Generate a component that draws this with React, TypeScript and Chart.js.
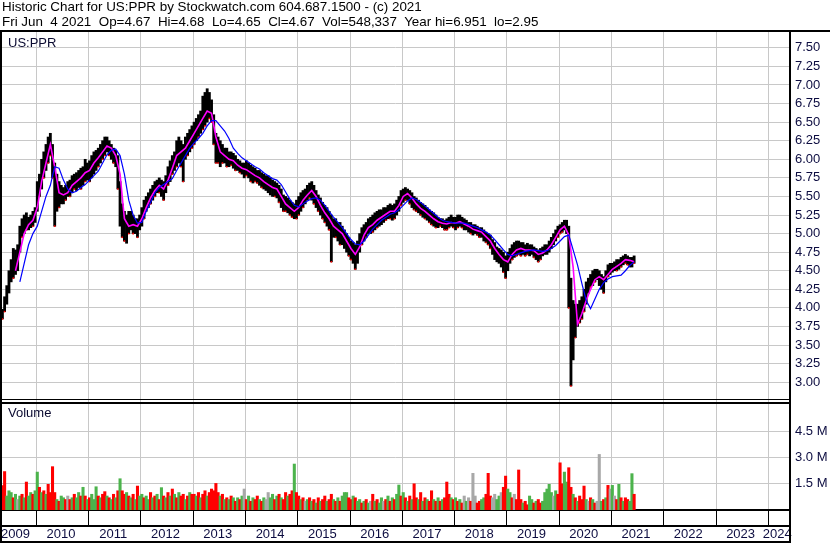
import React, { useEffect, useRef } from "react";
import { Chart, registerables } from "chart.js";

Chart.register(...registerables);

const HEADER_LINE_1 = "Historic Chart for US:PPR by Stockwatch.com 604.687.1500 - (c) 2021";
const HEADER_LINE_2 =
  "Fri Jun  4 2021  Op=4.67  Hi=4.68  Lo=4.65  Cl=4.67  Vol=548,337  Year hi=6.951  lo=2.95";
const PRICE_TITLE = "US:PPR";
const VOLUME_TITLE = "Volume";

// time axis: semi-monthly samples starting mid-2009
const START_YEAR = 2009.35;
const STEP = 1 / 24;
const MA_STEP = 1 / 12;
const X_MIN = 2009.344;
const X_MAX = 2024.415;

const YEAR_TICKS = [2010, 2011, 2012, 2013, 2014, 2015, 2016, 2017, 2018, 2019, 2020, 2021, 2022, 2023, 2024];
const YEAR_LABEL_POS = [2009.6, 2010.47, 2011.47, 2012.47, 2013.47, 2014.47, 2015.47, 2016.47, 2017.47, 2018.47, 2019.47, 2020.47, 2021.47, 2022.47, 2023.47, 2024.17];
const YEAR_LABELS = ["2009", "2010", "2011", "2012", "2013", "2014", "2015", "2016", "2017", "2018", "2019", "2020", "2021", "2022", "2023", "2024"];

const PRICE_TICKS = [3.0, 3.25, 3.5, 3.75, 4.0, 4.25, 4.5, 4.75, 5.0, 5.25, 5.5, 5.75, 6.0, 6.25, 6.5, 6.75, 7.0, 7.25, 7.5];
const VOLUME_TICKS = [1.5, 3.0, 4.5];

const PRICE_LOW = [
  3.85, 3.95, 4.05, 4.2, 4.35, 4.4, 4.45, 4.5, 4.75, 4.95, 5.0, 5.05, 5.05, 5.08, 5.1, 5.15,
  5.3, 5.5, 5.6, 5.75, 5.85, 5.95, 6.05, 5.75, 5.1, 5.3, 5.35, 5.4, 5.4, 5.45, 5.5, 5.5, 5.55, 5.6, 5.58, 5.62, 5.6, 5.65, 5.7, 5.72,
  5.7, 5.75, 5.8, 5.85, 5.9, 5.95, 6.0, 6.05, 6.1, 6.05, 6.0, 5.95, 5.9, 5.6, 5.1, 4.95, 4.9, 4.87, 5.0, 5.05, 5.0, 5.0, 4.95, 5.05,
  5.1, 5.2, 5.3, 5.35, 5.4, 5.45, 5.5, 5.55, 5.55, 5.5, 5.45, 5.55, 5.65, 5.7, 5.8, 5.85, 5.9, 5.95, 5.9, 5.7, 6.0, 6.05, 6.1, 6.15,
  6.2, 6.25, 6.3, 6.35, 6.4, 6.45, 6.5, 6.55, 6.5, 6.2, 5.95, 5.95, 5.9, 5.95, 5.95, 5.9, 5.9, 5.92, 5.88, 5.85, 5.85, 5.82, 5.8, 5.75,
  5.78, 5.75, 5.7, 5.68, 5.7, 5.68, 5.65, 5.62, 5.6, 5.58, 5.55, 5.52, 5.5, 5.5, 5.48, 5.42, 5.35, 5.3, 5.3, 5.28, 5.25, 5.22, 5.2, 5.2,
  5.25, 5.3, 5.35, 5.4, 5.45, 5.48, 5.45, 5.4, 5.35, 5.3, 5.25, 5.2, 5.15, 5.1, 5.05, 4.62, 4.95, 4.95, 4.9, 4.85, 4.85, 4.8, 4.75, 4.7,
  4.65, 4.6, 4.52, 4.6, 4.75, 4.85, 4.9, 4.95, 5.0, 5.0, 5.02, 5.05, 5.08, 5.1, 5.12, 5.15, 5.18, 5.2, 5.2, 5.18, 5.2, 5.25, 5.3, 5.38,
  5.42, 5.45, 5.45, 5.4, 5.35, 5.32, 5.3, 5.28, 5.25, 5.22, 5.2, 5.18, 5.15, 5.12, 5.1, 5.08, 5.08, 5.1, 5.08, 5.05, 5.05, 5.08, 5.1, 5.08,
  5.05, 5.08, 5.1, 5.08, 5.05, 5.05, 5.02, 5.0, 4.98, 5.0, 4.98, 4.95, 4.95, 4.9, 4.88, 4.85, 4.8, 4.72, 4.65, 4.62, 4.6, 4.55, 4.48, 4.4,
  4.5, 4.6, 4.65, 4.68, 4.7, 4.72, 4.7, 4.72, 4.7, 4.72, 4.7, 4.72, 4.68, 4.65, 4.62, 4.65, 4.7, 4.72, 4.72, 4.75, 4.8, 4.85, 4.9, 4.95,
  5.0, 5.02, 5.05, 5.0, 4.0, 2.95, 3.3, 3.6, 3.75, 3.8, 3.85, 3.95, 4.05, 4.2, 4.28, 4.3, 4.35, 4.38, 4.3, 4.25, 4.2, 4.35, 4.42, 4.45,
  4.48, 4.5, 4.5, 4.52, 4.55, 4.58, 4.6, 4.58, 4.55, 4.55, 4.6,
];

const PRICE_HIGH = [
  3.98, 4.15, 4.3, 4.5, 4.65, 4.8, 4.78, 4.85, 5.1, 5.2, 5.25, 5.28, 5.22, 5.25, 5.3, 5.35,
  5.7, 5.8, 6.0, 6.1, 6.2, 6.3, 6.35, 6.2, 5.95, 5.8, 5.7, 5.65, 5.62, 5.65, 5.7, 5.72, 5.78, 5.8, 5.82, 5.85, 5.88, 5.9, 6.0, 5.95,
  5.98, 6.05, 6.1, 6.12, 6.15, 6.2, 6.25, 6.3, 6.3, 6.25, 6.2, 6.15, 6.12, 6.05, 5.7, 5.4, 5.3, 5.25, 5.3, 5.3, 5.25, 5.2, 5.2, 5.25,
  5.35, 5.45, 5.5, 5.55, 5.6, 5.65, 5.7, 5.72, 5.75, 5.72, 5.7, 5.78, 5.9, 5.98, 6.05, 6.1, 6.25, 6.3, 6.25, 6.2, 6.3, 6.35, 6.4, 6.45,
  6.5, 6.55, 6.6, 6.65, 6.85, 6.9, 6.95, 6.9, 6.8, 6.6, 6.35, 6.3, 6.25, 6.2, 6.15, 6.15, 6.1, 6.1, 6.08, 6.05, 6.0, 5.98, 5.95, 5.95,
  5.98, 5.95, 5.92, 5.9, 5.88, 5.85, 5.85, 5.82, 5.8, 5.78, 5.78, 5.75, 5.72, 5.7, 5.68, 5.65, 5.6, 5.52, 5.5, 5.48, 5.45, 5.42, 5.4, 5.45,
  5.5, 5.55, 5.58, 5.6, 5.65, 5.68, 5.7, 5.65, 5.58, 5.52, 5.48, 5.42, 5.38, 5.35, 5.3, 5.25, 5.2, 5.2, 5.15, 5.15, 5.1, 5.05, 5.0, 4.95,
  4.9, 4.88, 4.85, 4.9, 5.0, 5.08, 5.12, 5.15, 5.2, 5.22, 5.25, 5.28, 5.3, 5.32, 5.32, 5.35, 5.35, 5.38, 5.4, 5.38, 5.4, 5.45, 5.5, 5.58,
  5.6, 5.62, 5.6, 5.58, 5.55, 5.5, 5.48, 5.45, 5.42, 5.4, 5.38, 5.35, 5.32, 5.3, 5.28, 5.25, 5.22, 5.2, 5.2, 5.18, 5.2, 5.22, 5.25, 5.22,
  5.22, 5.25, 5.25, 5.22, 5.2, 5.18, 5.15, 5.15, 5.12, 5.12, 5.1, 5.08, 5.08, 5.05, 5.02, 5.0, 4.98, 4.92, 4.88, 4.82, 4.8, 4.78, 4.75, 4.7,
  4.75, 4.8, 4.85, 4.88, 4.9, 4.9, 4.88, 4.88, 4.85, 4.87, 4.85, 4.85, 4.82, 4.8, 4.78, 4.8, 4.82, 4.85, 4.85, 4.9, 4.95, 5.0, 5.05, 5.1,
  5.12, 5.15, 5.18, 5.18, 5.1, 4.4, 4.1, 4.05, 4.05, 4.1, 4.15, 4.25, 4.35, 4.4, 4.45, 4.5, 4.52, 4.52, 4.5, 4.45, 4.42, 4.5, 4.58, 4.6,
  4.6, 4.62, 4.65, 4.65, 4.68, 4.7, 4.72, 4.7, 4.68, 4.68, 4.7,
];

// monthly moving averages
const MA_FAST = [
  null, null, null, 4.5, 4.75, 5.0, 5.12, 5.18, 5.35, 5.7, 5.95, 6.2,
  5.9, 5.55, 5.52, 5.55, 5.65, 5.7, 5.75, 5.82,
  5.85, 5.95, 6.02, 6.1, 6.18, 6.15, 6.05, 5.8, 5.2, 5.1, 5.12, 5.1,
  5.2, 5.35, 5.48, 5.58, 5.65, 5.6, 5.72, 5.88, 6.05, 6.1, 6.15, 6.25,
  6.35, 6.45, 6.55, 6.65, 6.62, 6.3, 6.1, 6.05, 6.0, 5.98, 5.92, 5.88,
  5.86, 5.82, 5.78, 5.75, 5.7, 5.66, 5.62, 5.6, 5.5, 5.4, 5.35, 5.3,
  5.35, 5.45, 5.52, 5.58, 5.5, 5.38, 5.28, 5.2, 5.1, 5.05, 5.0, 4.9,
  4.8, 4.72, 4.82, 4.98, 5.08, 5.12, 5.18, 5.22, 5.26, 5.3, 5.3, 5.38,
  5.5, 5.54, 5.48, 5.4, 5.34, 5.3, 5.25, 5.2, 5.16, 5.14, 5.13, 5.15,
  5.14, 5.16, 5.13, 5.1, 5.06, 5.04, 5.02, 4.96, 4.9, 4.8, 4.72, 4.65,
  4.62, 4.72, 4.78, 4.8, 4.78, 4.78, 4.77, 4.72, 4.74, 4.78, 4.85, 4.95,
  5.05, 5.1, 4.98, 4.55, 3.78, 3.92, 4.1, 4.25, 4.38, 4.42, 4.38, 4.45,
  4.52, 4.56, 4.6, 4.65, 4.64, 4.62,
];

const MA_SLOW = [
  null, null, null, null, 4.35, 4.6, 4.85, 5.0, 5.1, 5.3, 5.5, 5.65,
  5.9, 5.88, 5.72, 5.6, 5.55, 5.57, 5.62, 5.66,
  5.72, 5.78, 5.84, 5.95, 6.06, 6.12, 6.14, 6.05, 5.8, 5.45, 5.25, 5.14,
  5.15, 5.3, 5.42, 5.55, 5.62, 5.66, 5.7, 5.74, 5.85, 5.95, 6.05, 6.15,
  6.22, 6.28, 6.35, 6.45, 6.52, 6.52, 6.45, 6.38, 6.28, 6.15, 6.08, 6.02,
  5.98, 5.94, 5.9, 5.87, 5.82, 5.78, 5.74, 5.72, 5.66, 5.56, 5.46, 5.38,
  5.36, 5.4, 5.44, 5.47, 5.48, 5.45, 5.38, 5.3, 5.22, 5.15, 5.08, 5.0,
  4.92, 4.86, 4.85, 4.9, 4.98, 5.06, 5.12, 5.18, 5.22, 5.26, 5.28, 5.32,
  5.38, 5.44, 5.48, 5.46, 5.42, 5.37, 5.32, 5.27, 5.22, 5.18, 5.16, 5.15,
  5.14, 5.14, 5.14, 5.12, 5.1, 5.08, 5.05, 5.02, 4.98, 4.92, 4.85, 4.78,
  4.72, 4.7, 4.72, 4.74, 4.76, 4.77, 4.78, 4.77, 4.76, 4.77, 4.8, 4.84,
  4.9, 4.96, 4.98, 4.78, 4.58, 4.33, 4.1, 3.99, 4.12, 4.25, 4.34, 4.39,
  4.42, 4.43, 4.44, 4.5, 4.57, 4.62,
];

// volume in millions, semi-monthly
const VOLUME_M = [
  1.4, 2.2, 0.8, 1.1, 1.0, 0.7, 0.9, 0.6, 0.8, 0.9, 0.7, 1.6, 0.8, 1.0, 0.9, 1.1,
  2.17, 1.3, 1.0, 1.1, 0.9, 1.47, 1.0, 2.48, 1.0, 0.6, 0.5, 0.8, 0.7, 0.6, 0.8, 0.6, 0.7, 0.9, 0.7, 1.0, 0.8, 1.3, 0.8, 0.6,
  0.7, 0.9, 0.6, 1.33, 0.8, 0.7, 0.9, 1.05, 0.8, 0.7, 0.6, 0.9, 0.7, 1.1, 1.79, 1.1, 0.9, 1.0, 0.8, 0.7, 0.9, 0.6, 1.37, 0.8,
  0.9, 0.7, 0.8, 0.6, 1.0, 0.7, 0.8, 0.9, 0.6, 1.28, 0.8, 0.7, 1.0, 0.8, 1.2, 0.9, 0.7, 1.0, 0.8, 0.9, 0.6, 0.8, 1.0, 0.9,
  0.9, 0.8, 1.0, 0.7, 0.9, 1.1, 0.8, 1.0, 1.2, 1.1, 1.52, 1.0, 0.8, 0.9, 0.6, 0.7, 0.6, 0.8, 0.7, 0.5, 0.7, 0.6, 0.8, 1.2,
  0.6, 0.8, 0.5, 0.7, 0.6, 0.8, 0.6, 0.5, 0.7, 0.6, 1.0, 0.7, 0.9, 0.6, 0.8, 0.9, 0.7, 0.6, 1.0, 0.8, 0.9, 1.1, 2.63, 1.0,
  0.8, 0.6, 0.7, 0.5, 0.6, 0.7, 0.5, 0.6, 0.4, 0.7, 0.5, 0.6, 0.8, 0.5, 0.6, 0.9, 0.6, 0.5, 0.7, 0.5, 0.8, 1.0, 1.0, 0.7,
  0.6, 0.8, 0.7, 0.5, 0.6, 0.4, 0.5, 0.6, 0.4, 0.5, 0.9, 0.5, 0.6, 0.4, 0.7, 0.5, 0.6, 0.8, 0.5, 0.7, 0.6, 0.9, 1.43, 0.8,
  1.0, 0.7, 0.5, 0.8, 0.6, 1.5, 0.7, 0.6, 1.0, 0.5, 0.7, 0.6, 0.5, 1.1, 0.6, 0.5, 0.7, 0.5, 0.6, 0.7, 1.6, 0.9, 0.7, 0.6,
  0.7, 0.5, 0.6, 0.4, 0.8, 0.5, 0.7, 0.5, 2.1, 0.8, 0.4, 0.5, 0.6, 0.7, 0.9, 2.1, 0.8, 0.7, 0.9, 0.6, 0.8, 1.0, 1.3, 1.94,
  1.2, 1.0, 0.7, 0.9, 0.6, 2.29, 0.6, 0.4, 0.5, 0.3, 0.8, 0.6, 0.4, 0.5, 0.6, 0.4, 0.5, 1.0, 1.2, 1.47, 1.0, 0.8, 1.1, 0.9,
  2.7, 1.5, 2.17, 1.6, 2.42, 1.3, 0.9, 0.7, 0.5, 0.8, 0.6, 1.37, 0.6, 0.5, 0.7, 0.6, 0.4, 0.5, 3.18, 0.5, 0.6, 0.7, 1.41, 1.2,
  1.41, 0.8, 0.6, 1.47, 0.7, 0.5, 0.7, 0.6, 0.5, 2.08, 0.9,
];

// r = down, g = up, n = unchanged
const VOLUME_DIR =
  "rrgggrgngrgrggrg" +
  "grgrgrrrrgrggrnrgrggrgrg" +
  "rgggrgrrgrgrgrgrrgrgrgrg" +
  "grggrgrgrgrgrgrgrgrrgrgr" +
  "rgrgrrgrrrrrgrgrgrgrgrgn" +
  "rgrgrrgrgnnggrgrgrrgrrgr" +
  "rgrngrgrgrgrrgrrgrgrgggr" +
  "rgrggrgrgnrgrggnrgrgrggr" +
  "grgrgrrgrgrgrrgrgrgrrrgr" +
  "grgrngnrnnrrggrrrnnggnrr" +
  "ggrnrrrgrrggrgrrgggggngr" +
  "rrggrrgrgrrrgnrgrnngrgrn" +
  "gnrgrgrrggr";

const FONT = "'Liberation Sans', Arial, Helvetica, sans-serif";
const LABEL_COLOR = "#0c0c40";
const GRID_COLOR = "#c8c8c8";
const RED = "#ff0000";
const GREEN = "#4cb34c";
const GRAY = "#a8a8a8";

const framePlugin = {
  id: "frame",
  afterDraw(chart: any) {
    const { ctx, chartArea, scales } = chart;
    const right = chartArea.right;
    const top = chartArea.top;
    const sep = scales.yv.top;
    const bottom = scales.x2.bottom;
    ctx.save();
    ctx.fillStyle = "#000";
    ctx.fillRect(0, top - 2, chart.width, 2);
    ctx.fillRect(0, top - 2, 2, bottom - top + 4);
    ctx.fillRect(right - 1, top - 2, 2, bottom - top + 4);
    ctx.fillRect(0, sep - 3, right, 1);
    ctx.fillRect(0, sep, right, 2);
    ctx.fillRect(0, bottom, right + 1, 2);
    ctx.restore();
  },
};

export default function App() {
  const ref = useRef<HTMLCanvasElement>(null);

  useEffect(() => {
    document.body.style.margin = "0";
    const priceBars = PRICE_LOW.map((lo, i) => ({ x: START_YEAR + i * STEP, y: [lo, PRICE_HIGH[i]] }));
    const downCloses = PRICE_LOW.map((lo, i) => ({ x: START_YEAR + i * STEP, y: VOLUME_DIR[i] === "r" ? lo : null }));
    const volBars = VOLUME_M.map((v, i) => ({ x: START_YEAR + i * STEP, y: v }));
    const volColors = VOLUME_DIR.split("").map((c) => (c === "r" ? RED : c === "g" ? GREEN : GRAY));
    const fast = MA_FAST.map((v, k) => ({ x: START_YEAR + k * MA_STEP, y: v }));
    const slow = MA_SLOW.map((v, k) => ({ x: START_YEAR + k * MA_STEP, y: v }));

    const tickFont = { family: FONT, size: 13 };

    const chart = new Chart(ref.current as HTMLCanvasElement, {
      type: "bar",
      data: {
        datasets: [
          {
            type: "line",
            label: "MA slow",
            data: slow as any,
            xAxisID: "x",
            yAxisID: "y",
            borderColor: "#0000ff",
            borderWidth: 1.2,
            pointRadius: 0,
            tension: 0,
            spanGaps: false,
            order: 0,
          },
          {
            type: "line",
            label: "MA fast",
            data: fast as any,
            xAxisID: "x",
            yAxisID: "y",
            borderColor: "#ff00ff",
            borderWidth: 1.6,
            pointRadius: 0,
            tension: 0,
            spanGaps: false,
            order: 1,
          },
          {
            type: "line",
            label: "Down close",
            data: downCloses as any,
            xAxisID: "x",
            yAxisID: "y",
            showLine: false,
            pointStyle: "rect",
            pointRadius: 1.1,
            pointBackgroundColor: RED,
            pointBorderWidth: 0,
            order: 1.5,
          },
          {
            type: "bar",
            label: "Price",
            data: priceBars as any,
            xAxisID: "x",
            yAxisID: "y",
            backgroundColor: "#000000",
            borderWidth: 0,
            grouped: false,
            barPercentage: 1,
            categoryPercentage: 1,
            order: 2,
          },
          {
            type: "bar",
            label: "Volume",
            data: volBars as any,
            xAxisID: "x",
            yAxisID: "yv",
            backgroundColor: volColors,
            borderWidth: 0,
            grouped: false,
            barThickness: 2.4,
            order: 3,
          },
        ],
      },
      options: {
        responsive: false,
        devicePixelRatio: 1,
        animation: false,
        events: [],
        layout: { autoPadding: false, padding: { top: 32, left: 2, right: 0, bottom: 2 } },
        plugins: { legend: { display: false }, tooltip: { enabled: false } },
        scales: {
          x: {
            type: "linear",
            position: "bottom",
            min: X_MIN,
            max: X_MAX,
            offset: false,
            afterBuildTicks: (s: any) => {
              s.ticks = YEAR_TICKS.map((v) => ({ value: v }));
            },
            afterFit: (s: any) => {
              s.height = 16;
            },
            grid: {
              offset: false,
              color: GRID_COLOR,
              lineWidth: 1,
              drawTicks: true,
              tickLength: 16,
              tickColor: "#000000",
              tickWidth: 1,
            },
            border: { display: true, color: "#000000", width: 2 },
            ticks: { display: false },
          },
          x2: {
            type: "linear",
            position: "bottom",
            min: X_MIN,
            max: X_MAX,
            offset: false,
            afterBuildTicks: (s: any) => {
              s.ticks = YEAR_LABEL_POS.map((v) => ({ value: v }));
            },
            afterFit: (s: any) => {
              s.height = 15;
            },
            grid: { display: false, drawTicks: false, offset: false },
            border: { display: true, color: "#000000", width: 2 },
            ticks: {
              autoSkip: false,
              maxRotation: 0,
              minRotation: 0,
              padding: 1,
              font: tickFont,
              color: LABEL_COLOR,
              callback: (_v: any, idx: number) => YEAR_LABELS[idx],
            },
          },
          y: {
            type: "linear",
            position: "right",
            stack: "right",
            stackWeight: 370,
            min: 2.7335,
            max: 7.7133,
            offset: false,
            afterBuildTicks: (s: any) => {
              s.ticks = PRICE_TICKS.map((v) => ({ value: v }));
            },
            afterFit: (s: any) => {
              s.width = 40;
            },
            grid: { color: GRID_COLOR, lineWidth: 1, drawTicks: false },
            border: { display: true, color: "#000000", width: 2 },
            ticks: {
              padding: 5,
              font: tickFont,
              color: LABEL_COLOR,
              autoSkip: false,
              callback: (v: any) => Number(v).toFixed(2),
            },
          },
          yv: {
            type: "linear",
            position: "right",
            stack: "right",
            stackWeight: 108,
            min: 0,
            max: 6.18,
            offset: false,
            afterBuildTicks: (s: any) => {
              s.ticks = VOLUME_TICKS.map((v) => ({ value: v }));
            },
            afterFit: (s: any) => {
              s.width = 40;
            },
            grid: { color: GRID_COLOR, lineWidth: 1, drawTicks: false },
            border: { display: true, color: "#000000", width: 2 },
            ticks: {
              padding: 5,
              font: tickFont,
              color: LABEL_COLOR,
              autoSkip: false,
              callback: (v: any) => Number(v).toFixed(1) + " M",
            },
          },
        },
      } as any,
      plugins: [framePlugin],
    });
    return () => chart.destroy();
  }, []);

  const textBase: React.CSSProperties = {
    position: "absolute",
    fontFamily: FONT,
    whiteSpace: "pre",
    margin: 0,
  };

  return (
    <div style={{ position: "relative", width: 830, height: 543, background: "#ffffff", overflow: "hidden" }}>
      <canvas ref={ref} width={830} height={543} style={{ position: "absolute", left: 0, top: 0, width: 830, height: 543 }} />
      <div style={{ ...textBase, left: 2, top: 0, fontSize: 13.4, lineHeight: "14.5px", color: "#000" }}>
        <div>{HEADER_LINE_1}</div>
        <div>{HEADER_LINE_2}</div>
      </div>
      <div style={{ ...textBase, left: 8, top: 35, fontSize: 13, lineHeight: "15px", color: "#0a0a30" }}>{PRICE_TITLE}</div>
      <div style={{ ...textBase, left: 8, top: 405, fontSize: 13, lineHeight: "15px", color: "#0a0a30" }}>{VOLUME_TITLE}</div>
    </div>
  );
}
